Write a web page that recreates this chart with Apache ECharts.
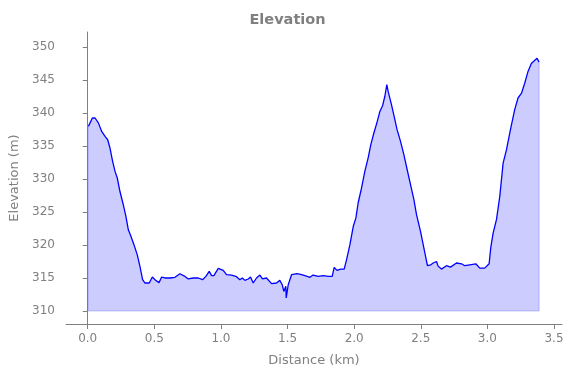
<!DOCTYPE html>
<html>
<head>
<meta charset="utf-8">
<script src="https://cdn.jsdelivr.net/npm/echarts@6/dist/echarts.min.js"></script>
<style>
  html, body { margin: 0; padding: 0; background: #fff; }
  #chart { width: 575px; height: 378px; }
</style>
</head>
<body>
<div id="chart"></div>
<script>
// distance along the track (km)
var distance = [
  0.005, 0.035, 0.055, 0.08, 0.105, 0.13, 0.15, 0.167, 0.187, 0.205,
  0.222, 0.242, 0.267, 0.287, 0.305, 0.325, 0.347, 0.372, 0.392, 0.412,
  0.43, 0.462, 0.485, 0.505, 0.535, 0.555, 0.58, 0.617, 0.655, 0.692,
  0.73, 0.755, 0.792, 0.83, 0.862, 0.887, 0.912, 0.93, 0.947, 0.98,
  1.017, 1.042, 1.08, 1.117, 1.142, 1.16, 1.18, 1.205, 1.222, 1.242,
  1.267, 1.292, 1.312, 1.342, 1.38, 1.417, 1.442, 1.46, 1.472, 1.487,
  1.49, 1.505, 1.53, 1.572, 1.605, 1.63, 1.668, 1.692, 1.73, 1.767,
  1.805, 1.835, 1.85, 1.872, 1.898, 1.925, 1.943, 1.968, 1.993, 2.013,
  2.03, 2.055, 2.08, 2.105, 2.125, 2.148, 2.173, 2.193, 2.213, 2.23,
  2.245, 2.255, 2.28, 2.3, 2.322, 2.348, 2.373, 2.398, 2.423, 2.448,
  2.468, 2.498, 2.523, 2.55, 2.575, 2.593, 2.618, 2.63, 2.655, 2.693,
  2.723, 2.768, 2.806, 2.83, 2.868, 2.913, 2.943, 2.98, 3.013, 3.025,
  3.043, 3.068, 3.093, 3.118, 3.143, 3.173, 3.205, 3.23, 3.256, 3.28,
  3.305, 3.33, 3.356, 3.373, 3.388
];
// elevation (m)
var elevation = [
  337.97, 339.24, 339.24, 338.5, 337.2, 336.45, 335.95, 334.7, 332.67, 331.15,
  330.15, 328.1, 326.1, 324.3, 322.3, 321.3, 320.05, 318.5, 316.76, 314.74,
  314.24, 314.24, 315.15, 314.74, 314.3, 315.15, 315.0, 315.0, 315.1, 315.65,
  315.24, 314.85, 315.0, 315.0, 314.74, 315.24, 316.0, 315.35, 315.35, 316.45,
  316.15, 315.5, 315.45, 315.2, 314.74, 315.0, 314.64, 314.85, 315.15, 314.24,
  315.0, 315.45, 314.85, 315.0, 314.14, 314.24, 314.64, 313.98, 312.97, 313.75,
  311.97, 313.98, 315.5, 315.65, 315.5, 315.35, 315.1, 315.45, 315.24, 315.35,
  315.24, 315.24, 316.6, 316.15, 316.35, 316.35, 317.77, 320.05, 322.8, 324.1,
  326.4, 328.6, 331.15, 333.2, 335.2, 336.97, 338.7, 340.24, 341.1, 342.5,
  344.3, 343.27, 341.26, 339.5, 337.47, 335.7, 333.7, 331.4, 329.14, 326.9,
  324.6, 322.06, 319.55, 316.86, 317.0, 317.27, 317.5, 316.8, 316.35, 316.86,
  316.65, 317.27, 317.15, 316.86, 317.0, 317.15, 316.5, 316.5, 317.15, 319.55,
  321.8, 323.83, 327.36, 332.4, 334.4, 337.47, 340.5, 342.27, 343.0, 344.5,
  346.3, 347.5, 348.0, 348.3, 347.7
];
var fillBase = 310; // bottom of the shaded area
var xTicks = [0, 0.5, 1.0, 1.5, 2.0, 2.5, 3.0, 3.5];
var yTicks = [310, 315, 320, 325, 330, 335, 340, 345, 350];

var profile = distance.map(function (d, i) { return [d, elevation[i]]; });
var last = distance.length - 1;
// outline of the shaded polygon (left side, bottom, right side)
var outline = [
  [distance[0], elevation[0]],
  [distance[0], fillBase],
  [distance[last], fillBase],
  [distance[last], elevation[last]]
];

var gray = "#808080";
var font = "DejaVu Sans";

var myChart = echarts.init(document.getElementById("chart"));
myChart.setOption({
  animation: false,
  title: {
    text: "Elevation",
    left: "center",
    top: 8,
    textStyle: { color: gray, fontSize: 14.5, fontWeight: "bold", fontFamily: font }
  },
  grid: { left: 66, right: 13, top: 32, bottom: 54 },
  xAxis: {
    type: "value",
    min: -0.163,
    max: 3.56,
    name: "Distance (km)",
    nameLocation: "middle",
    nameGap: 30,
    nameTextStyle: { color: gray, fontSize: 13, fontFamily: font },
    axisLine: { show: true, lineStyle: { color: gray, width: 1 } },
    axisTick: { show: true, inside: false, length: 5, customValues: xTicks, lineStyle: { color: gray } },
    axisLabel: {
      customValues: xTicks,
      margin: 9,
      color: gray,
      fontSize: 12,
      fontFamily: font,
      formatter: function (v) { return v.toFixed(1); }
    },
    splitLine: { show: false }
  },
  yAxis: {
    type: "value",
    min: 308.03,
    max: 352.27,
    name: "Elevation (m)",
    nameLocation: "middle",
    nameGap: 40,
    nameTextStyle: { color: gray, fontSize: 13, fontFamily: font },
    axisLine: { show: true, lineStyle: { color: gray, width: 1 } },
    axisTick: { show: true, inside: false, length: 5, customValues: yTicks, lineStyle: { color: gray } },
    axisLabel: {
      customValues: yTicks,
      margin: 11,
      color: gray,
      fontSize: 12,
      fontFamily: font
    },
    splitLine: { show: false }
  },
  series: [
    {
      // shaded area under the profile
      type: "line",
      data: profile,
      symbol: "none",
      lineStyle: { width: 0 },
      areaStyle: { origin: fillBase, color: "rgba(0,0,255,0.2)", opacity: 1 },
      z: 1
    },
    {
      // faint edge of the shaded area
      type: "line",
      data: outline,
      symbol: "none",
      lineStyle: { color: "rgba(0,0,255,0.2)", width: 1.2 },
      z: 2
    },
    {
      // the profile line
      type: "line",
      data: profile,
      symbol: "none",
      lineStyle: { color: "#0000ff", width: 1.3 },
      z: 3
    }
  ]
});
</script>
</body>
</html>
